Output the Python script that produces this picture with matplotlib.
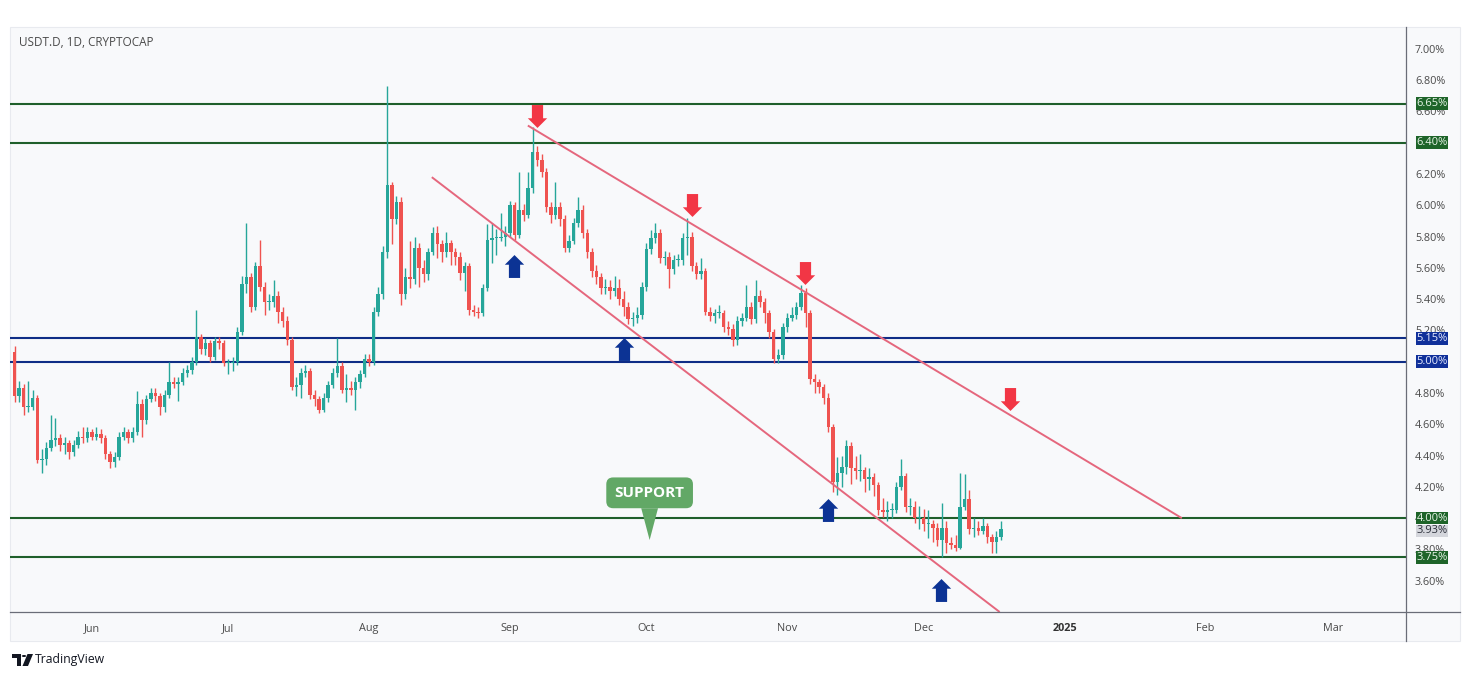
import numpy as np
import pandas as pd
import matplotlib
matplotlib.use("Agg")
import matplotlib.pyplot as plt
import matplotlib.dates as mdates
import matplotlib.transforms as mtransforms
from matplotlib.path import Path
from matplotlib.patches import Rectangle, Polygon, Circle
from matplotlib.lines import Line2D

plt.rcParams['font.family'] = ['Open Sans', 'DejaVu Sans']

# ---------------- data ----------------
title = "USDT.D, 1D, CRYPTOCAP"
start_date = "2024-05-15"
first_open = 5.06
closes = [
    4.78, 4.83, 4.71, 4.71, 4.77, 4.37, 4.38, 4.45, 4.50, 4.51,
    4.47, 4.48, 4.42, 4.47, 4.52, 4.51, 4.55, 4.52, 4.54, 4.51,
    4.41, 4.36, 4.39, 4.52, 4.55, 4.51, 4.55, 4.73, 4.63, 4.76,
    4.80, 4.78, 4.71, 4.79, 4.87, 4.86, 4.87, 4.93, 4.95, 5.00,
    5.16, 5.08, 5.12, 5.03, 5.13, 5.12, 4.99, 4.99, 5.00, 5.19,
    5.50, 5.54, 5.35, 5.61, 5.48, 5.38, 5.38, 5.42, 5.32, 5.26,
    5.14, 4.84, 4.85, 4.93, 4.94, 4.79, 4.76, 4.69, 4.77, 4.85,
    4.93, 4.97, 4.82, 4.83, 4.82, 4.87, 4.92, 5.02, 5.00, 5.32,
    5.43, 5.70, 6.13, 5.91, 6.02, 5.43, 5.54, 5.53, 5.73, 5.60,
    5.56, 5.70, 5.82, 5.75, 5.70, 5.76, 5.70, 5.67, 5.57, 5.61,
    5.33, 5.32, 5.31, 5.47, 5.78, 5.79, 5.79, 5.80, 5.82, 6.00,
    5.81, 5.97, 5.94, 6.11, 6.34, 6.29, 6.21, 5.99, 5.94, 5.99,
    5.91, 5.73, 5.77, 5.89, 5.97, 5.82, 5.70, 5.58, 5.54, 5.47,
    5.48, 5.45, 5.47, 5.40, 5.35, 5.27, 5.28, 5.30, 5.48, 5.72,
    5.79, 5.82, 5.66, 5.67, 5.59, 5.65, 5.65, 5.79, 5.80, 5.61,
    5.56, 5.58, 5.32, 5.29, 5.31, 5.31, 5.22, 5.21, 5.14, 5.26,
    5.28, 5.35, 5.27, 5.42, 5.38, 5.31, 5.19, 5.02, 5.04, 5.22,
    5.28, 5.30, 5.35, 5.44, 5.31, 4.89, 4.87, 4.84, 4.77, 4.58,
    4.23, 4.29, 4.33, 4.46, 4.32, 4.30, 4.31, 4.25, 4.26, 4.21,
    4.05, 4.04, 4.05, 4.05, 4.20, 4.27, 4.07, 4.07, 4.00, 4.00,
    3.96, 3.96, 3.94, 3.86, 3.94, 3.84, 3.83, 3.81, 4.07, 4.12,
    3.93, 3.94, 3.92, 3.95, 3.88, 3.85, 3.88, 3.93,
]
highs = [
    5.10, 4.88, 4.86, 4.88, 4.82, 4.79, 4.44, 4.49, 4.66, 4.64,
    4.54, 4.52, 4.50, 4.50, 4.56, 4.58, 4.58, 4.57, 4.58, 4.57,
    4.53, 4.43, 4.42, 4.55, 4.58, 4.57, 4.58, 4.81, 4.76, 4.79,
    4.83, 4.83, 4.80, 4.82, 5.00, 4.90, 4.90, 4.96, 4.98, 5.03,
    5.33, 5.18, 5.15, 5.14, 5.16, 5.16, 5.14, 5.02, 5.03, 5.22,
    5.55, 5.89, 5.57, 5.64, 5.78, 5.51, 5.43, 5.52, 5.45, 5.35,
    5.29, 5.16, 4.90, 4.96, 4.98, 4.96, 4.82, 4.78, 4.80, 4.88,
    4.96, 5.15, 5.00, 4.92, 4.88, 4.90, 4.95, 5.05, 5.05, 5.35,
    5.48, 5.74, 6.76, 6.15, 6.06, 6.05, 5.60, 5.77, 5.80, 5.76,
    5.65, 5.73, 5.86, 5.87, 5.78, 5.83, 5.78, 5.73, 5.70, 5.64,
    5.63, 5.36, 5.35, 5.50, 5.88, 5.89, 5.85, 5.95, 5.87, 6.03,
    6.02, 6.21, 6.01, 6.21, 6.50, 6.38, 6.33, 6.24, 6.02, 6.15,
    6.02, 5.94, 5.81, 5.92, 6.05, 6.00, 5.85, 5.73, 5.62, 5.57,
    5.53, 5.52, 5.55, 5.53, 5.45, 5.38, 5.32, 5.35, 5.51, 5.76,
    5.84, 5.89, 5.85, 5.71, 5.70, 5.68, 5.69, 5.82, 5.92, 5.83,
    5.64, 5.66, 5.60, 5.35, 5.34, 5.36, 5.33, 5.26, 5.24, 5.29,
    5.31, 5.49, 5.38, 5.52, 5.46, 5.41, 5.33, 5.21, 5.08, 5.25,
    5.31, 5.35, 5.38, 5.49, 5.47, 5.33, 4.92, 4.89, 4.86, 4.80,
    4.60, 4.39, 4.40, 4.50, 4.49, 4.40, 4.41, 4.33, 4.32, 4.29,
    4.23, 4.13, 4.11, 4.10, 4.23, 4.38, 4.29, 4.13, 4.11, 4.08,
    4.06, 4.05, 3.99, 3.97, 4.10, 3.98, 3.88, 3.89, 4.29, 4.28,
    4.18, 4.00, 3.98, 4.00, 3.97, 3.90, 3.92, 3.98,
]
lows = [
    4.74, 4.74, 4.66, 4.68, 4.69, 4.35, 4.29, 4.34, 4.43, 4.46,
    4.43, 4.41, 4.38, 4.40, 4.45, 4.48, 4.49, 4.50, 4.50, 4.48,
    4.38, 4.32, 4.33, 4.37, 4.50, 4.48, 4.49, 4.53, 4.52, 4.60,
    4.74, 4.75, 4.66, 4.68, 4.77, 4.83, 4.75, 4.85, 4.90, 4.92,
    4.98, 5.05, 5.04, 5.00, 5.01, 5.08, 4.97, 4.92, 4.94, 4.98,
    5.17, 5.44, 5.32, 5.33, 5.45, 5.30, 5.33, 5.35, 5.25, 5.22,
    5.11, 4.82, 4.78, 4.77, 4.90, 4.76, 4.72, 4.67, 4.68, 4.74,
    4.83, 4.90, 4.80, 4.74, 4.79, 4.69, 4.83, 4.90, 4.97, 4.98,
    5.29, 5.40, 5.66, 5.75, 5.88, 5.36, 5.40, 5.47, 5.50, 5.48,
    5.51, 5.52, 5.68, 5.66, 5.64, 5.67, 5.62, 5.62, 5.52, 5.45,
    5.30, 5.29, 5.28, 5.29, 5.45, 5.63, 5.68, 5.77, 5.74, 5.80,
    5.78, 5.79, 5.90, 5.92, 6.08, 6.25, 6.18, 5.96, 5.89, 5.91,
    5.87, 5.70, 5.70, 5.75, 5.86, 5.79, 5.66, 5.54, 5.50, 5.43,
    5.43, 5.40, 5.42, 5.36, 5.29, 5.24, 5.23, 5.25, 5.27, 5.45,
    5.69, 5.76, 5.63, 5.62, 5.47, 5.56, 5.61, 5.62, 5.68, 5.58,
    5.53, 5.53, 5.30, 5.26, 5.25, 5.28, 5.19, 5.17, 5.10, 5.11,
    5.23, 5.26, 5.24, 5.25, 5.35, 5.25, 5.15, 4.99, 4.99, 5.02,
    5.19, 5.26, 5.27, 5.33, 5.22, 4.86, 4.80, 4.80, 4.73, 4.55,
    4.17, 4.15, 4.20, 4.28, 4.22, 4.25, 4.24, 4.17, 4.18, 4.14,
    4.02, 4.01, 3.98, 4.00, 4.03, 4.18, 4.04, 4.02, 3.97, 3.93,
    3.92, 3.87, 3.85, 3.82, 3.75, 3.78, 3.80, 3.79, 3.80, 4.05,
    3.90, 3.88, 3.89, 3.90, 3.84, 3.78, 3.78, 3.86,
]

green_levels = [6.65, 6.40, 4.00, 3.75]
blue_levels = [5.15, 5.00]
last_price = 3.93

upper_trend_dates = ["2024-09-04 22:00", "2025-01-26 19:00"]
upper_trend_values = [6.51, 4.00]
lower_trend_dates = ["2024-08-14 19:00", "2024-12-17 17:00"]
lower_trend_values = [6.18, 3.40]

down_arrow_dates = ["2024-09-06 22:00", "2024-10-11 00:00", "2024-11-04 19:00", "2024-12-19 22:00"]
down_arrow_values = [6.57, 6.00, 5.57, 4.76]
up_arrow_dates = ["2024-09-01 19:00", "2024-09-26 00:00", "2024-11-09 22:00", "2024-12-04 19:00"]
up_arrow_values = [5.61, 5.08, 4.05, 3.54]

support_label = "SUPPORT"
support_date = "2024-10-01 17:00"
support_value = 3.86

month_ticks = ["2024-06-01", "2024-07-01", "2024-08-01", "2024-09-01", "2024-10-01",
               "2024-11-01", "2024-12-01", "2025-01-01", "2025-02-01", "2025-03-01"]
month_labels = ["Jun", "Jul", "Aug", "Sep", "Oct", "Nov", "Dec", "2025", "Feb", "Mar"]
price_ticks = [3.60, 3.80, 4.00, 4.20, 4.40, 4.60, 4.80, 5.00, 5.20, 5.40,
               5.60, 5.80, 6.00, 6.20, 6.40, 6.60, 6.80, 7.00]

# ---------------- style ----------------
UP = '#26a69a'
DOWN = '#ef5350'
LEVEL_GREEN = '#1f5f2b'
LEVEL_BLUE = '#0f2d86'
TREND = '#e5677d'
ARROW_RED = '#f23645'
ARROW_BLUE = '#0c3394'
BG = '#f8f9fb'
TXT = '#4a4a4a'

W, H = 1470, 677
fig = plt.figure(figsize=(W / 100, H / 100), dpi=100)
fig.patch.set_facecolor('white')


def fx(px):
    return px / W


def fy(py):
    return 1 - py / H


# panel background
fig.add_artist(Rectangle((fx(10), fy(641)), fx(1460) - fx(10), fy(27) - fy(641),
                         transform=fig.transFigure, facecolor=BG, edgecolor='#e8eaef',
                         lw=0.8, zorder=0))

ax = fig.add_axes([fx(10), fy(612), fx(1406) - fx(10), fy(27) - fy(612)])
ax.set_facecolor('none')
for s in ax.spines.values():
    s.set_visible(False)

# separators
fig.add_artist(Line2D([fx(1406), fx(1406)], [fy(27), fy(641)], transform=fig.transFigure,
                      color='#6a6d78', lw=0.9, zorder=5))
fig.add_artist(Line2D([fx(10), fx(1460)], [fy(612), fy(612)], transform=fig.transFigure,
                      color='#6a6d78', lw=0.9, zorder=5))

# candles
dates = pd.date_range(start_date, periods=len(closes), freq='D')
x = mdates.date2num(dates)
c = np.array(closes)
o = np.r_[first_open, c[:-1]]
h = np.array(highs)
l = np.array(lows)
cols = np.where(c >= o, UP, DOWN)
bottom = np.minimum(o, c)
height = np.maximum(np.abs(c - o), 0.008)
ax.vlines(x, l, h, colors=cols, lw=1.0, zorder=3)
ax.bar(x, height, bottom=bottom, width=0.76, color=cols, linewidth=0, zorder=3.1)

# levels
for v in green_levels:
    ax.axhline(v, color=LEVEL_GREEN, lw=1.5, zorder=2)
for v in blue_levels:
    ax.axhline(v, color=LEVEL_BLUE, lw=1.5, zorder=2)

# trend lines
ax.plot(mdates.date2num(pd.to_datetime(upper_trend_dates)), upper_trend_values,
        color=TREND, lw=1.4, zorder=4, solid_capstyle='butt')
ax.plot(mdates.date2num(pd.to_datetime(lower_trend_dates)), lower_trend_values,
        color=TREND, lw=1.4, zorder=4, solid_capstyle='butt')

# arrows (block arrow markers)
down_verts = [(-5.5, 11.25), (5.5, 11.25), (5.5, -1.75), (9.5, -1.75), (0, -11.25),
              (-9.5, -1.75), (-5.5, -1.75), (-5.5, 11.25)]
down_path = Path(down_verts, [Path.MOVETO] + [Path.LINETO] * 6 + [Path.CLOSEPOLY])
up_path = Path([(vx, -vy) for vx, vy in down_verts], down_path.codes)
ax.plot(mdates.date2num(pd.to_datetime(down_arrow_dates)), down_arrow_values, ls='none',
        marker=down_path, markersize=16.5, color=ARROW_RED, markeredgewidth=0, zorder=6)
ax.plot(mdates.date2num(pd.to_datetime(up_arrow_dates)), up_arrow_values, ls='none',
        marker=up_path, markersize=16.5, color=ARROW_BLUE, markeredgewidth=0, zorder=6,
        clip_on=False)

# support callout
ax.annotate(support_label, xy=(mdates.date2num(pd.Timestamp(support_date)), support_value),
            xytext=(0, 34), textcoords='offset points', ha='center', va='center',
            fontsize=11, fontweight='bold', color='white', zorder=7,
            bbox=dict(boxstyle='round,pad=0.55,rounding_size=0.45', fc='#62a866', ec='none'),
            arrowprops=dict(arrowstyle='wedge,tail_width=1.1,shrink_factor=0.5',
                            fc='#62a866', ec='none', shrinkA=0, shrinkB=0))

# axes limits
base = mdates.date2num(pd.Timestamp(month_ticks[0]))
ax.set_xlim(base - 18.0, base + 289.1)
ax.set_ylim(3.40, 7.14)

# y axis labels on the right
ax.yaxis.tick_right()
ax.set_yticks(price_ticks)
ax.set_yticklabels([f"{v:.2f}%" for v in price_ticks])
ax.tick_params(axis='y', length=0, pad=6.5, labelsize=7.8, labelcolor=TXT)

# x axis labels
ax.set_xticks(mdates.date2num(pd.to_datetime(month_ticks)))
ax.set_xticklabels(month_labels)
ax.tick_params(axis='x', length=0, pad=8, labelsize=7.8, labelcolor=TXT)
for lab in ax.get_xticklabels():
    if lab.get_text() == "2025":
        lab.set_fontweight('bold')
        lab.set_color('#333333')

# price label boxes
trans = mtransforms.blended_transform_factory(ax.transAxes, ax.transData)
axw = 1406 - 10
bx0 = (1416 - 10) / axw
bw = 32 / axw
bh = 12.5 / 156.4


def price_box(v, fc, tc, shown=None):
    ax.add_patch(Rectangle((bx0, v - bh / 2), bw, bh, transform=trans, clip_on=False,
                           fc=fc, ec='none', zorder=10))
    ax.text(bx0 + bw / 2, v, f"{(shown if shown is not None else v):.2f}%", transform=trans,
            ha='center', va='center', fontsize=8, color=tc, zorder=11, clip_on=False)


for v in green_levels:
    price_box(v, '#1e6429', '#e9f5e9')
for v in blue_levels:
    price_box(v, '#10309a', '#e8ecff')
price_box(last_price - 0.012, '#d4d6dc', '#2a2e39', shown=last_price)

# title
fig.text(fx(19), fy(43), title, fontsize=8.5, color=TXT, va='center', ha='left')

# TradingView logo
logo_col = '#131722'
fig.add_artist(Polygon([(fx(12), fy(654)), (fx(21), fy(654)), (fx(21), fy(666)), (fx(17), fy(666)),
                        (fx(17), fy(658)), (fx(12), fy(658))], closed=True,
                       transform=fig.transFigure, fc=logo_col, ec='none'))
fig.add_artist(Circle((fx(24), fy(656)), 2.2 / W, transform=fig.transFigure, fc=logo_col, ec='none'))
fig.add_artist(Polygon([(fx(27.5), fy(654)), (fx(33), fy(654)), (fx(28), fy(666)), (fx(22.5), fy(666))],
                       closed=True, transform=fig.transFigure, fc=logo_col, ec='none'))
fig.text(fx(35), fy(660), "TradingView", fontsize=8.8, color='#131722', va='center', ha='left')

fig.savefig("out.png", dpi=100, facecolor='white')
